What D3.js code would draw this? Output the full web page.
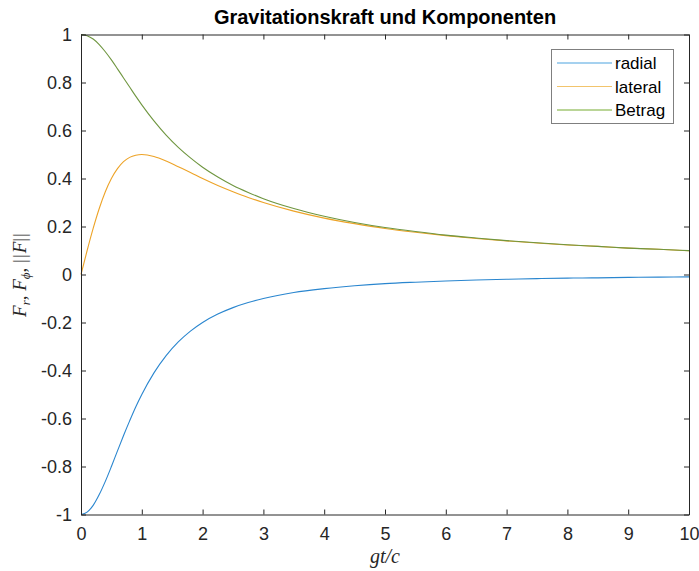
<!DOCTYPE html>
<html>
<head>
<meta charset="utf-8">
<script src="https://cdn.jsdelivr.net/npm/d3@7"></script>
<style>
  body { margin: 0; background: #fff; }
  svg text { fill: #262626; }
</style>
</head>
<body>
<svg id="chart" width="699" height="571"></svg>
<script>
// values
var xs = [0, 0.1, 0.2, 0.3, 0.4, 0.5, 0.6, 0.7, 0.8, 0.9, 1.0, 1.2, 1.4, 1.6, 1.8, 2.0,
          2.25, 2.5, 2.75, 3, 3.5, 4, 4.5, 5, 5.5, 6, 6.5, 7, 7.5, 8, 8.5, 9, 9.5, 10];
var radial = [-1, -0.990, -0.962, -0.917, -0.862, -0.800, -0.735, -0.671, -0.610, -0.552, -0.500,
              -0.410, -0.338, -0.281, -0.236, -0.200, -0.165, -0.138, -0.117, -0.100, -0.075,
              -0.059, -0.047, -0.038, -0.032, -0.027, -0.023, -0.020, -0.017, -0.015, -0.014,
              -0.012, -0.011, -0.010];
var lateral = [0, 0.099, 0.192, 0.275, 0.345, 0.400, 0.441, 0.470, 0.488, 0.497, 0.500,
               0.492, 0.473, 0.449, 0.425, 0.400, 0.371, 0.345, 0.321, 0.300, 0.264,
               0.235, 0.212, 0.192, 0.176, 0.162, 0.150, 0.140, 0.131, 0.123, 0.117,
               0.110, 0.105, 0.099];
var betrag = [1, 0.995, 0.981, 0.958, 0.928, 0.894, 0.857, 0.819, 0.781, 0.743, 0.707,
              0.640, 0.581, 0.530, 0.486, 0.447, 0.406, 0.371, 0.342, 0.316, 0.275,
              0.243, 0.217, 0.196, 0.179, 0.164, 0.152, 0.141, 0.132, 0.124, 0.117,
              0.110, 0.105, 0.0995];
var xTicks = [0, 1, 2, 3, 4, 5, 6, 7, 8, 9, 10];
var yTicks = [-1, -0.8, -0.6, -0.4, -0.2, 0, 0.2, 0.4, 0.6, 0.8, 1];
var seriesNames = ["radial", "lateral", "Betrag"];

var svg = d3.select("#chart");
var pLeft = 81, pRight = 689, pTop = 34.5, pBottom = 514.5;
var sans = "'Liberation Sans', Arial, sans-serif";
var serif = "'Liberation Serif', 'Times New Roman', serif";

var x = d3.scaleLinear().domain([0, 10]).range([pLeft, pRight]);
var y = d3.scaleLinear().domain([-1, 1]).range([pBottom, pTop]);

var series = [
  { name: seriesNames[0], values: radial,  color: "#2a86cf", legend: "#4da3e0" },
  { name: seriesNames[1], values: lateral, color: "#eda327", legend: "#f2c46c" },
  { name: seriesNames[2], values: betrag,  color: "#6f9640", legend: "#77ac30" }
];

var line = d3.line()
  .x(function(d) { return x(d[0]); })
  .y(function(d) { return y(d[1]); })
  .curve(d3.curveMonotoneX);

series.forEach(function(s) {
  svg.append("path")
    .datum(xs.map(function(v, i) { return [v, s.values[i]]; }))
    .attr("fill", "none")
    .attr("stroke", s.color)
    .attr("stroke-width", 1.1)
    .attr("d", line);
});

// axes with inward ticks on all four sides
function styleAxis(g) {
  g.selectAll("path").attr("stroke", "#262626");
  g.selectAll("line").attr("stroke", "#262626");
}
function styleText(g) {
  g.selectAll("text").attr("font-size", 18).attr("fill", "#262626")
    .style("font-family", sans);
}
// plain hyphen for negatives, like the reference
var fmt = function(d) { return String(Math.round(d * 10) / 10); };

svg.append("g").attr("transform", "translate(0," + pBottom + ")")
  .call(d3.axisBottom(x).tickValues(xTicks).tickSizeInner(-5).tickSizeOuter(0).tickPadding(13).tickFormat(fmt))
  .call(styleAxis).call(styleText);
svg.append("g").attr("transform", "translate(0," + pTop + ")")
  .call(d3.axisTop(x).tickValues(xTicks).tickSizeInner(-5).tickSizeOuter(0).tickFormat(""))
  .call(styleAxis);
svg.append("g").attr("transform", "translate(" + pLeft + ",0)")
  .call(d3.axisLeft(y).tickValues(yTicks).tickSizeInner(-5).tickSizeOuter(0).tickPadding(9).tickFormat(fmt))
  .call(styleAxis).call(styleText);
svg.append("g").attr("transform", "translate(" + pRight + ",0)")
  .call(d3.axisRight(y).tickValues(yTicks).tickSizeInner(-5).tickSizeOuter(0).tickFormat(""))
  .call(styleAxis);

// title
svg.append("text")
  .attr("x", (pLeft + pRight) / 2).attr("y", 24)
  .attr("text-anchor", "middle")
  .attr("font-size", 20).attr("font-weight", "bold")
  .style("font-family", sans).style("fill", "#000")
  .text("Gravitationskraft und Komponenten");

// x label (LaTeX style)
svg.append("text")
  .attr("x", (pLeft + pRight) / 2).attr("y", 563)
  .attr("text-anchor", "middle")
  .style("font-family", serif).style("font-style", "italic")
  .attr("font-size", 20)
  .text("gt/c");

// y label
var yl = svg.append("text")
  .attr("transform", "translate(26," + ((pTop + pBottom) / 2) + ") rotate(-90)")
  .attr("text-anchor", "middle")
  .style("font-family", serif)
  .attr("font-size", 19);
yl.append("tspan").style("font-style", "italic").text("F");
yl.append("tspan").style("font-style", "italic").attr("font-size", 13).attr("dy", 4).text("r");
yl.append("tspan").attr("dy", -4).text(", ");
yl.append("tspan").style("font-style", "italic").text("F");
yl.append("tspan").style("font-style", "italic").attr("font-size", 13).attr("dy", 4).text("\u03d5");
yl.append("tspan").attr("dy", -4).text(", ");
yl.append("tspan").style("letter-spacing", "1px").text("||");
yl.append("tspan").style("font-style", "italic").text("F");
yl.append("tspan").style("letter-spacing", "1px").text("||");

// legend
var lg = svg.append("g");
lg.append("rect")
  .attr("x", 551.5).attr("y", 49.5).attr("width", 122).attr("height", 74)
  .attr("fill", "#fff").attr("stroke", "#7f7f7f").attr("stroke-width", 1);
series.forEach(function(s, i) {
  var yy = 63 + i * 23.5;
  lg.append("line")
    .attr("x1", 557).attr("x2", 612).attr("y1", yy).attr("y2", yy)
    .attr("stroke", s.legend).attr("stroke-width", 1.2);
  lg.append("text")
    .attr("x", 615).attr("y", yy + 6)
    .attr("font-size", 17)
    .style("font-family", sans).style("fill", "#000")
    .text(s.name);
});
</script>
</body>
</html>
